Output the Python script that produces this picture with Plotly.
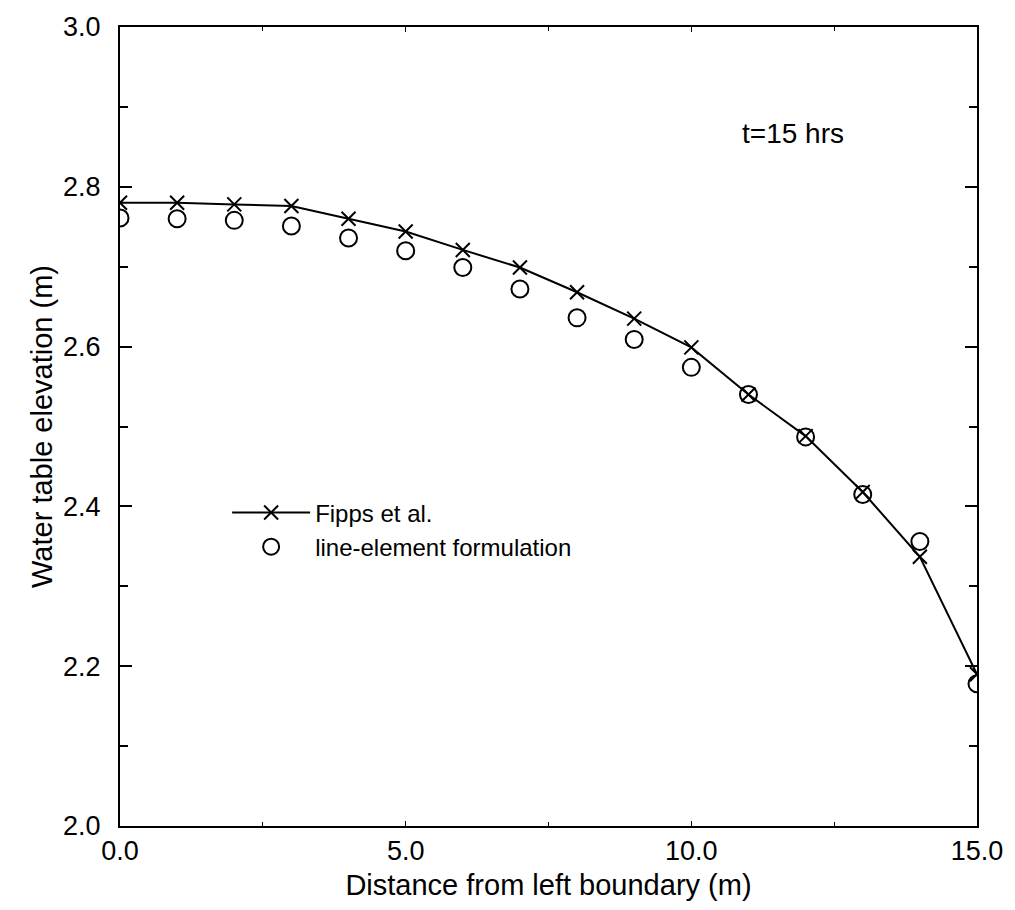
import plotly.graph_objects as go

# Data
distance = [0, 1, 2, 3, 4, 5, 6, 7, 8, 9, 10, 11, 12, 13, 14, 15]
fipps = [2.780, 2.780, 2.778, 2.776, 2.760, 2.744, 2.721, 2.699, 2.668,
         2.635, 2.599, 2.540, 2.488, 2.418, 2.337, 2.190]
line_element = [2.761, 2.760, 2.758, 2.751, 2.736, 2.720, 2.699, 2.672,
                2.636, 2.609, 2.574, 2.540, 2.487, 2.415, 2.356, 2.178]

x_ticks = [0, 5, 10, 15]
x_tick_labels = ["0.0", "5.0", "10.0", "15.0"]
y_ticks = [2.0, 2.2, 2.4, 2.6, 2.8, 3.0]
y_tick_labels = ["2.0", "2.2", "2.4", "2.6", "2.8", "3.0"]

FONT = "Liberation Sans, Arial, Helvetica, sans-serif"

fig = go.Figure()
fig.add_trace(go.Scatter(
    x=distance, y=fipps, mode="lines+markers", name="Fipps et al.",
    line=dict(color="black", width=2),
    marker=dict(symbol="x-thin-open", size=14, color="black",
                line=dict(color="black", width=2)),
))
fig.add_trace(go.Scatter(
    x=distance, y=line_element, mode="markers", name="line-element formulation",
    marker=dict(symbol="circle-open", size=17, color="black",
                line=dict(color="black", width=2)),
))

fig.add_annotation(x=12.7, y=2.867, xref="x", yref="y", text="t=15 hrs",
                   showarrow=False, xanchor="right", yanchor="middle",
                   font=dict(family=FONT, size=28, color="black"))

fig.update_xaxes(
    range=[0, 15], tickvals=x_ticks, ticktext=x_tick_labels,
    showline=True, linecolor="black", linewidth=2, mirror="ticks",
    ticks="inside", ticklen=5, tickwidth=1, tickcolor="black",
    minor=dict(tickvals=[2.5, 7.5, 12.5], ticks="inside", ticklen=4, tickcolor="black"),
    showgrid=False, zeroline=False,
    tickfont=dict(family=FONT, size=27, color="black"),
    title=dict(text="Distance from left boundary (m)", standoff=9,
               font=dict(family=FONT, size=29, color="black")),
)
fig.update_yaxes(
    range=[2.0, 3.0], tickvals=y_ticks, ticktext=y_tick_labels,
    showline=True, linecolor="black", linewidth=2, mirror="ticks",
    ticks="inside", ticklen=12, tickwidth=1.5, tickcolor="black",
    ticklabelstandoff=12,
    minor=dict(tickvals=[2.1, 2.3, 2.5, 2.7, 2.9], ticks="inside", ticklen=8,
               tickcolor="black"),
    showgrid=False, zeroline=False,
    tickfont=dict(family=FONT, size=27, color="black"),
    title=dict(text="Water table elevation (m)", standoff=2,
               font=dict(family=FONT, size=29, color="black")),
)

fig.update_layout(
    width=1015, height=910,
    margin=dict(l=120, r=30, t=23, b=84),
    paper_bgcolor="white", plot_bgcolor="white",
    showlegend=True,
    legend=dict(x=0.125, y=0.42, xanchor="left", yanchor="top",
                bgcolor="rgba(0,0,0,0)", borderwidth=0,
                itemwidth=78,
                font=dict(family=FONT, size=24, color="black"),
                tracegroupgap=0),
    font=dict(family=FONT, color="black"),
)

fig.write_html("out.html")
